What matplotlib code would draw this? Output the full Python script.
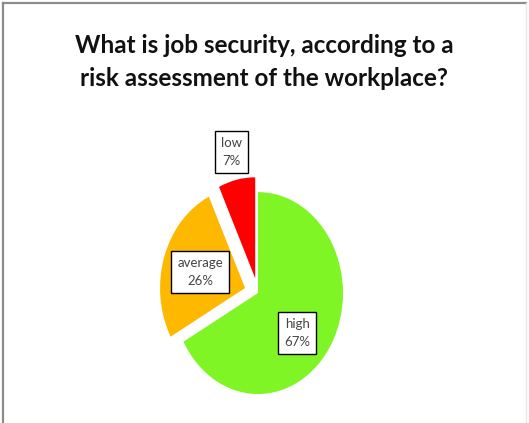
import numpy as np
import matplotlib.pyplot as plt
from matplotlib.lines import Line2D

labels = ["high", "average", "low"]
shares = [67, 26, 7]  # %
colors = ["#80F525", "#FFB800", "#FF0000"]
explode = [0, 0.16, 0.15]

title = "What is job security, according to a\nrisk assessment of the workplace?"

fig = plt.figure(figsize=(5.29, 4.23), dpi=100)

# frame around the chart area
fig.add_artist(Line2D([0.006, 0.006], [0, 0.993], color="#8c8c8c", lw=1.6))
fig.add_artist(Line2D([0.006, 0.995], [0.993, 0.993], color="#8c8c8c", lw=1.6))
fig.add_artist(Line2D([0.995, 0.995], [0, 0.993], color="#e6e6e6", lw=1))

fig.text(0.50, 0.853, title, ha="center", va="center", fontsize=17.5,
         family="Lato", fontweight="bold",
         linespacing=1.5, color="#111111")

ax = fig.add_axes([0.2467, 0.0208, 0.482, 0.716])
wedges, _ = ax.pie(shares, colors=colors, explode=explode, startangle=90,
                   counterclock=False, radius=1)
ax.set_aspect("auto")
ax.set_xlim(-1.5, 1.5)
ax.set_ylim(-1.2, 1.8)
ax.axis("off")

# label placement: distance from centre and angle tweak (deg)
lab_pos = {"high": (0.61, -10), "average": (0.71, 1), "low": (1.43, 0)}
for w, name, val in zip(wedges, labels, shares):
    mid = np.deg2rad((w.theta1 + w.theta2) / 2 + lab_pos[name][1])
    r = lab_pos[name][0]
    ax.text(r * np.cos(mid), r * np.sin(mid), "%s\n%d%%" % (name, val),
            ha="center", va="center", fontsize=9.5, color="#454545",
            family="Lato", linespacing=1.6,
            bbox=dict(boxstyle="square,pad=0.45", fc="white", ec="black", lw=1))

fig.savefig("out.png", dpi=100)
